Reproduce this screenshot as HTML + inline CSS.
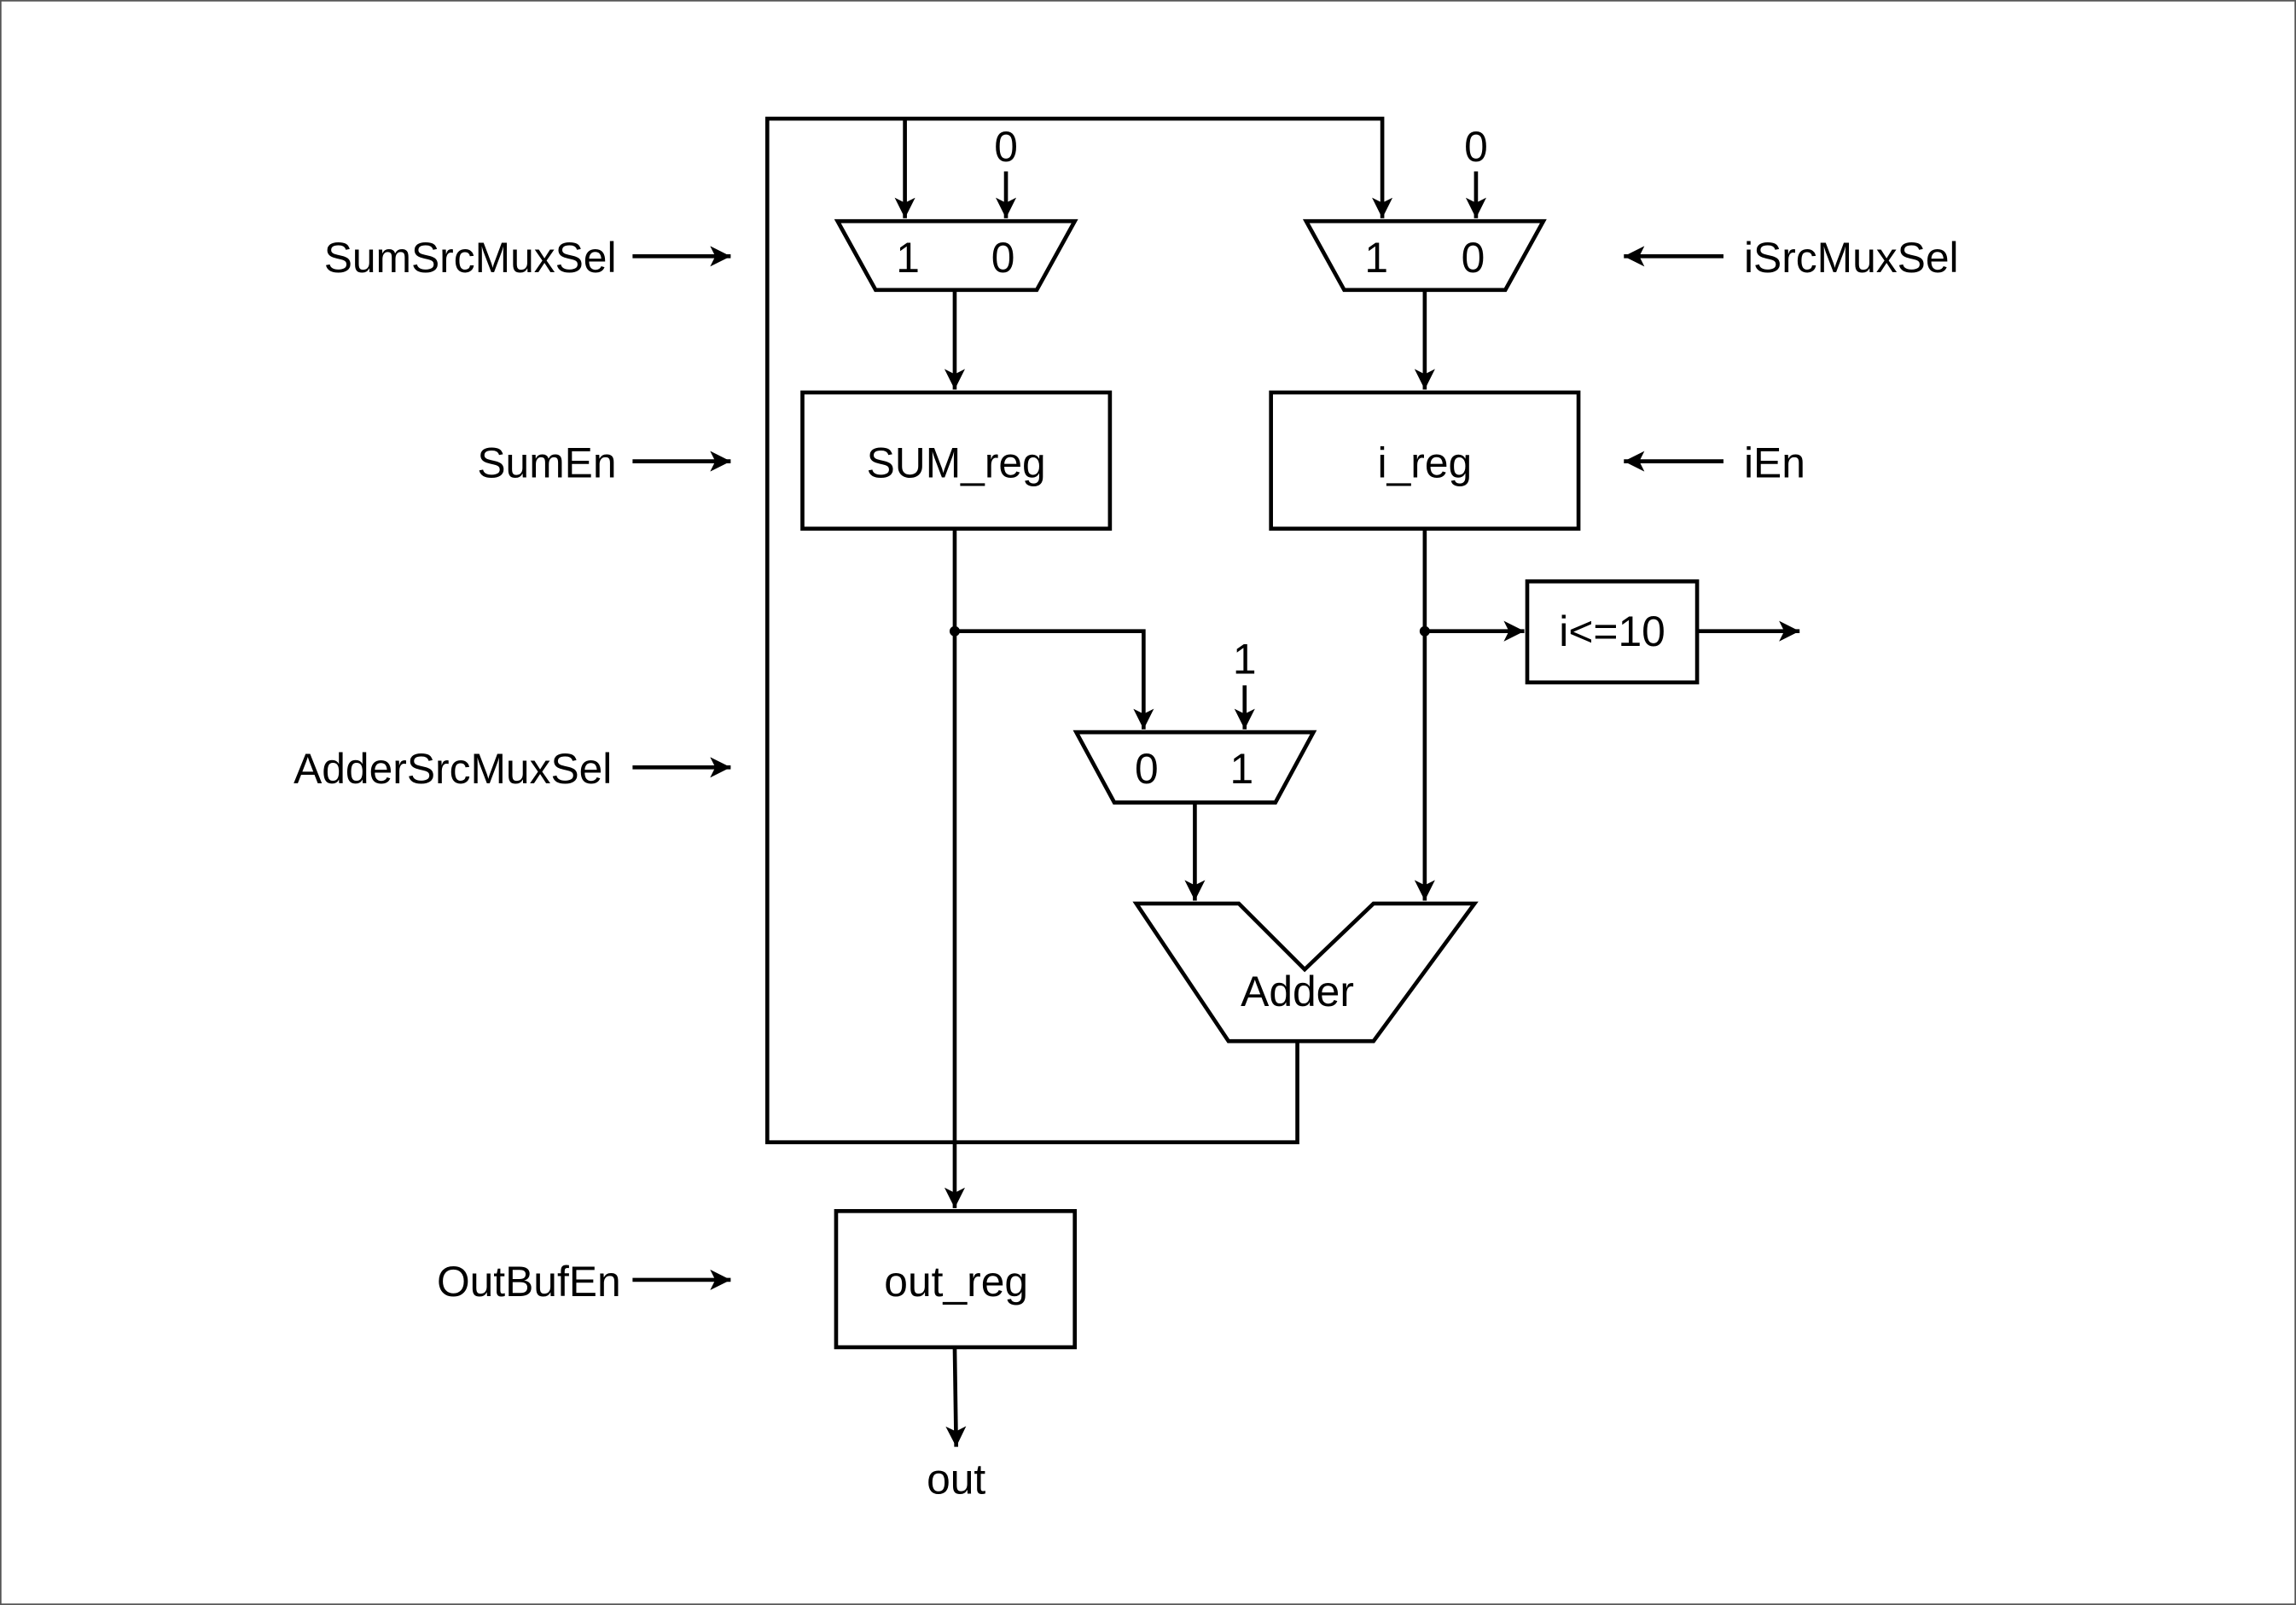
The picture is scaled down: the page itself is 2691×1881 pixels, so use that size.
<!DOCTYPE html>
<html><head><meta charset="utf-8"><style>
html,body{margin:0;padding:0;background:#fff;}
svg{display:block;}
text{font-family:"Liberation Sans",Arial,sans-serif;font-size:29px;fill:#000;}
</style></head><body>
<svg width="2691" height="1881" viewBox="0 0 1568 1096" xmlns="http://www.w3.org/2000/svg">
<defs>
<marker id="a" viewBox="0 0 10 10" refX="10" refY="5" markerWidth="5.2" markerHeight="5.2" orient="auto" markerUnits="strokeWidth">
<path d="M0,0 L10,5 L0,10 L2.5,5 z" fill="#000"/>
</marker>
</defs>
<rect x="0.5" y="0.5" width="1567" height="1095" fill="#fff" stroke="#555" stroke-width="1"/>
<g stroke="#000" stroke-width="2.7" fill="none">
<polyline points="886,711 886,780 524,780 524,81 944,81 944,149" marker-end="url(#a)"/>
<line x1="618" y1="81" x2="618" y2="149" marker-end="url(#a)"/>
<line x1="687" y1="117" x2="687" y2="149" marker-end="url(#a)"/>
<line x1="1008" y1="117" x2="1008" y2="149" marker-end="url(#a)"/>
<polygon points="572,151 734,151 708,198 598,198"/>
<polygon points="892,151 1054,151 1028,198 918,198"/>
<polygon points="735,500 897,500 871,548 761,548"/>
<line x1="652" y1="198" x2="652" y2="266" marker-end="url(#a)"/>
<line x1="973" y1="198" x2="973" y2="266" marker-end="url(#a)"/>
<rect x="548" y="268" width="210" height="93"/>
<rect x="868" y="268" width="210" height="93"/>
<line x1="652" y1="361" x2="652" y2="825" marker-end="url(#a)"/>
<polyline points="652,431 781,431 781,498" marker-end="url(#a)"/>
<line x1="850" y1="468" x2="850" y2="498" marker-end="url(#a)"/>
<line x1="816" y1="548" x2="816" y2="615" marker-end="url(#a)"/>
<line x1="973" y1="361" x2="973" y2="615" marker-end="url(#a)"/>
<line x1="973" y1="431" x2="1041" y2="431" marker-end="url(#a)"/>
<rect x="1043" y="397" width="116" height="69"/>
<line x1="1159" y1="431" x2="1229" y2="431" marker-end="url(#a)"/>
<polygon points="776,617 846,617 891,662 938,617 1007,617 938,711 839,711"/>
<rect x="571" y="827" width="163" height="93"/>
<line x1="652" y1="920" x2="653" y2="988" marker-end="url(#a)"/>
<line x1="432" y1="175" x2="499" y2="175" marker-end="url(#a)"/>
<line x1="432" y1="315" x2="499" y2="315" marker-end="url(#a)"/>
<line x1="432" y1="524" x2="499" y2="524" marker-end="url(#a)"/>
<line x1="432" y1="874" x2="499" y2="874" marker-end="url(#a)"/>
<line x1="1177" y1="175" x2="1109" y2="175" marker-end="url(#a)"/>
<line x1="1177" y1="315" x2="1109" y2="315" marker-end="url(#a)"/>
</g>
<circle cx="652" cy="431" r="3.5" fill="#000"/>
<circle cx="973" cy="431" r="3.5" fill="#000"/>
<g text-anchor="middle">
<text x="687" y="110">0</text>
<text x="1008" y="110">0</text>
<text x="620" y="186">1</text><text x="685" y="186">0</text>
<text x="940" y="186">1</text><text x="1006" y="186">0</text>
<text x="653" y="326">SUM_reg</text>
<text x="973" y="326">i_reg</text>
<text x="850" y="460">1</text>
<text x="783" y="535">0</text><text x="848" y="535">1</text>
<text x="1101" y="441">i&lt;=10</text>
<text x="886" y="687">Adder</text>
<text x="653" y="885">out_reg</text>
<text x="653" y="1020">out</text>
</g>
<g text-anchor="end">
<text x="421" y="186">SumSrcMuxSel</text>
<text x="421" y="326">SumEn</text>
<text x="418" y="535">AdderSrcMuxSel</text>
<text x="424" y="885">OutBufEn</text>
</g>
<text x="1191" y="186">iSrcMuxSel</text>
<text x="1191" y="326">iEn</text>
</svg>
</body></html>
